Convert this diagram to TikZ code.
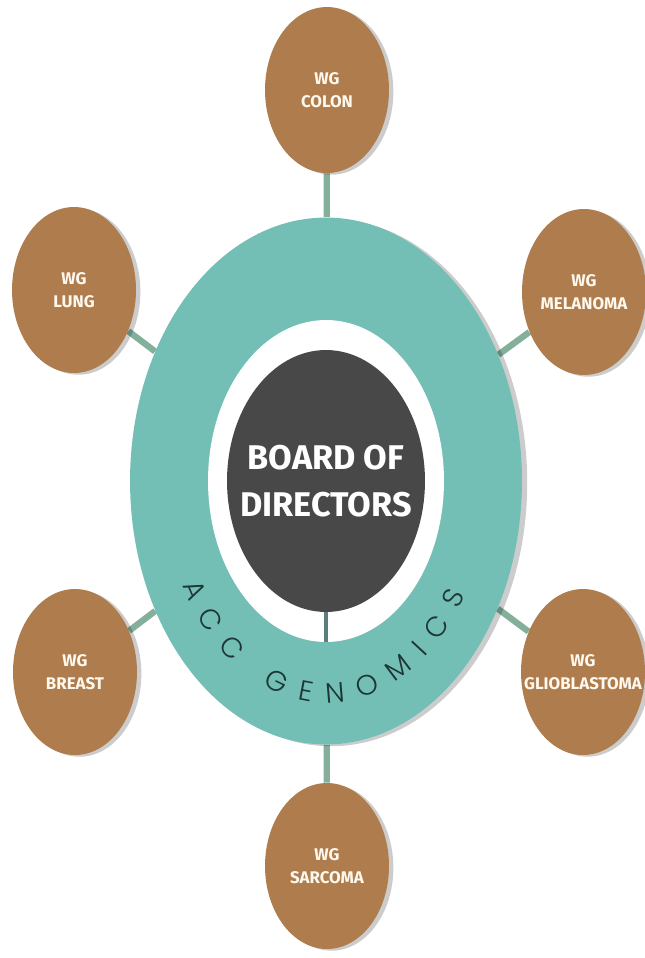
\documentclass[tikz,border=0pt]{standalone}
\usepackage{fontspec}
\setmainfont{Fira Sans}
\newfontfamily\arcfont{Poppins Light}
\usetikzlibrary{shapes.geometric,shadows,backgrounds,decorations.text}

\definecolor{accteal}{HTML}{74BFB5}
\definecolor{accbrown}{HTML}{AF7D4D}
\definecolor{accdark}{HTML}{484848}
\definecolor{acccream}{HTML}{FFF8EE}
\definecolor{arctext}{HTML}{1E3535}

\tikzset{
  wg/.style={ellipse, fill=accbrown, minimum width=2.48cm, minimum height=3.32cm,
    inner xsep=-10pt, inner ysep=0pt, text=acccream, align=center,
    font=\bfseries\fontsize{9.6}{13}\selectfont,
    drop shadow={shadow xshift=2.5pt, shadow yshift=-1pt, opacity=.2, fill=black}},
  link/.style={line width=3.6pt, draw=accteal!75!accbrown},
}

\begin{document}
\begin{tikzpicture}[x=0.02cm, y=-0.02cm]
  \useasboundingbox (0,0) rectangle (645,958);

  % the hub: teal disc, white ring, dark core
  \node[ellipse, fill=accteal, minimum width=7.84cm, minimum height=10.54cm, inner sep=0pt,
    drop shadow={shadow xshift=3pt, shadow yshift=-1pt, opacity=.2, fill=black}] (hub) at (326,481) {};
  \node[ellipse, fill=white, minimum width=4.72cm, minimum height=6.44cm, inner sep=0pt] (ring) at (326,481) {};
  \node[ellipse, fill=accdark, minimum width=3.96cm, minimum height=5.24cm, inner xsep=-16pt, inner ysep=0pt,
    text=white, align=center, font=\bfseries\fontsize{19.5}{27}\selectfont] (board) at (326,481) {BOARD OF\\DIRECTORS};
  \draw[line width=2.2pt, accdark!55!accteal] (board.south) -- (ring.south);

  % name running round the bottom of the teal disc
  \path[decorate, decoration={text along path, text align=fit to path,
    text={|\arcfont\fontsize{16}{16}\selectfont\color{arctext}|ACC GENOMICS}}]
    (hub.center) ++(152:162 and 222) arc[start angle=152, end angle=31, x radius=162, y radius=222];

  % working groups
  \node[wg] (colon) at (327,90) {WG\\COLON};
  \node[wg] (lung) at (74,290) {WG\\LUNG};
  \node[wg] (melanoma) at (584,292) {WG\\MELANOMA};
  \node[wg] (breast) at (75,672) {WG\\BREAST};
  \node[wg] (glioblastoma) at (583,672) {WG\\GLIOBLASTOMA};
  \node[wg] (sarcoma) at (327,866) {WG\\SARCOMA};

  \begin{scope}[on background layer]
    \foreach \g in {colon,lung,melanoma,breast,glioblastoma,sarcoma}
      \draw[link] (hub) -- (\g);
  \end{scope}
\end{tikzpicture}
\end{document}
